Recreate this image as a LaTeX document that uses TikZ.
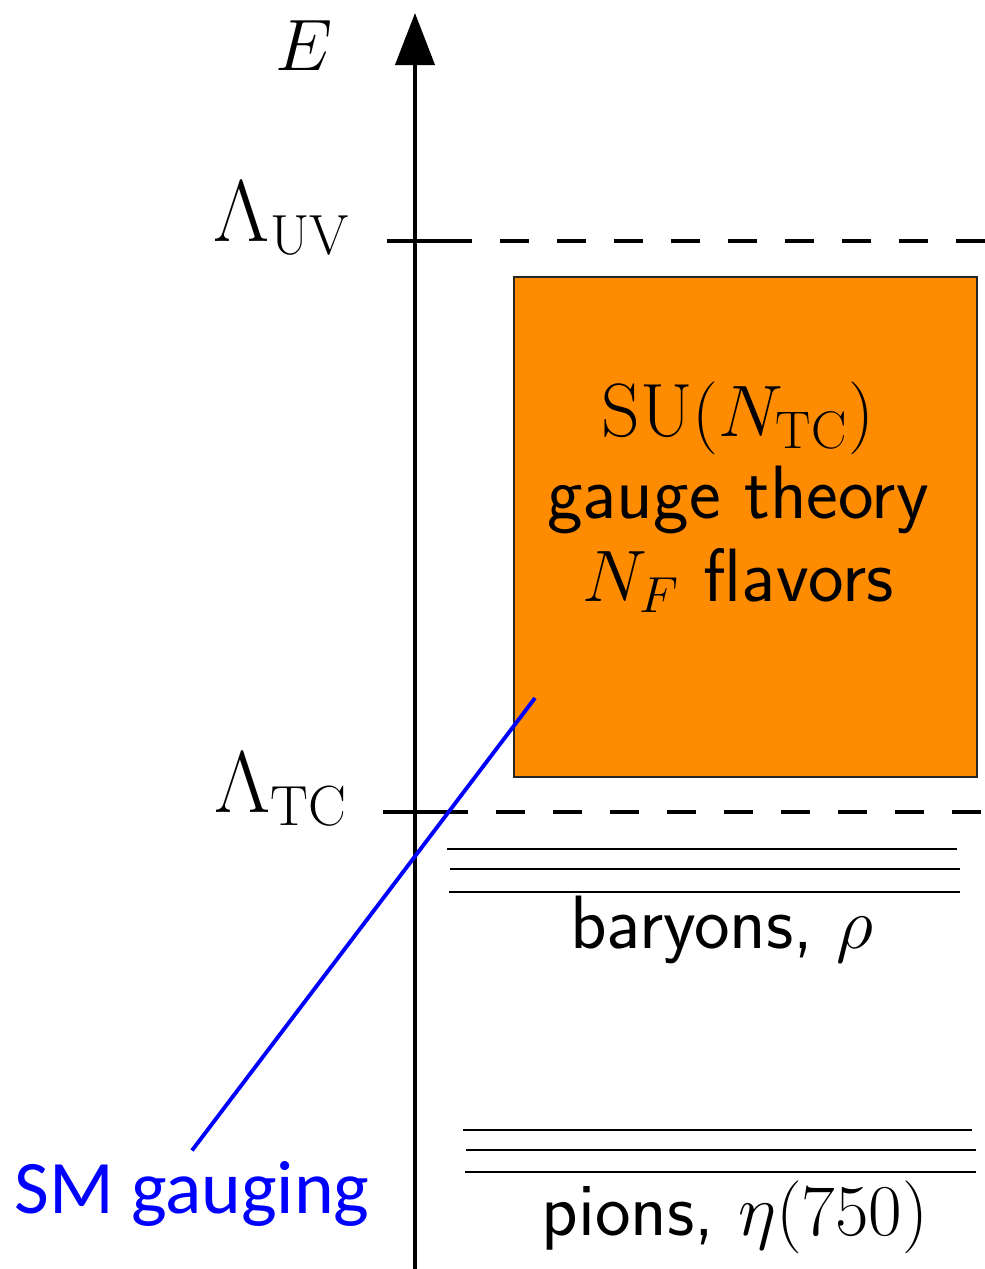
\documentclass[tikz,border=0pt]{standalone}
\usepackage{fontspec}
\newfontfamily\smfont{Carlito}
\usetikzlibrary{arrows.meta}
\definecolor{tcorange}{RGB}{255,140,0}

\begin{document}
\begin{tikzpicture}[
    x=0.01cm, y=-0.01cm,
    font=\fontsize{21.5}{23.5}\selectfont\sffamily,
    lvl/.style={anchor=base east, inner sep=0pt, font=\fontsize{23}{25}\selectfont},
    band/.style={black, line width=0.7pt},
    cutline/.style={black, line width=1.15pt, dash pattern=on 0.29cm off 0.28cm},
    scaletick/.style={black, line width=1.15pt},
    tcbox/.style={draw=black!85, line width=0.6pt, fill=tcorange, minimum width=4.63cm, minimum height=5.0cm, inner sep=0pt},
    >={Triangle[length=5.2mm, width=3.9mm]}
]
    \useasboundingbox (0,0) rectangle (985,1269);

    \coordinate (axbot) at (415,1269);
    \coordinate (axtop) at (415,13);
    \draw[->, line width=1.15pt] (axbot) -- (axtop);
    \node[anchor=base, inner sep=0pt] (E) at (304,70) {$E$};

    \draw[scaletick] (387,241) -- (447,241);
    \draw[cutline] (443,241) -- (985,241);
    \node[lvl] (luv) at (351,241) {$\Lambda_{\mathrm{UV}}$};

    \draw[scaletick] (383,812) -- (447,812);
    \draw[cutline] (439,812) -- (985,812);
    \node[lvl] (ltc) at (349,812) {$\Lambda_{\mathrm{TC}}$};

    \node[tcbox] (tcbox) at (745.5,527) {};
    \node[align=center, inner sep=0pt] (tctext) at (738,497)
        {$\mathrm{SU}(N_{\mathrm{TC}})$\\gauge theory\\$N_F$ flavors};

    \draw[band] (447,849) -- (957,849);
    \draw[band] (450,869) -- (960,869);
    \draw[band] (449,892) -- (960,892);
    \node[anchor=base, inner sep=0pt] (bar) at (722,948) {baryons, $\rho$};

    \draw[band] (463,1130) -- (972,1130);
    \draw[band] (466,1150) -- (976,1150);
    \draw[band] (465,1172) -- (976,1172);
    \node[anchor=base, inner sep=0pt] (pion) at (735,1235) {pions, $\eta(750)$};

    \node[anchor=base, inner sep=0pt, outer sep=3pt, text=blue,
        font=\smfont\fontsize{21.5}{24}\selectfont] (smg) at (192,1213) {SM gauging};
    \coordinate (smend) at (535,698);
    \draw[blue, line width=1.1pt] (smg.north) -- (smend);
\end{tikzpicture}
\end{document}
